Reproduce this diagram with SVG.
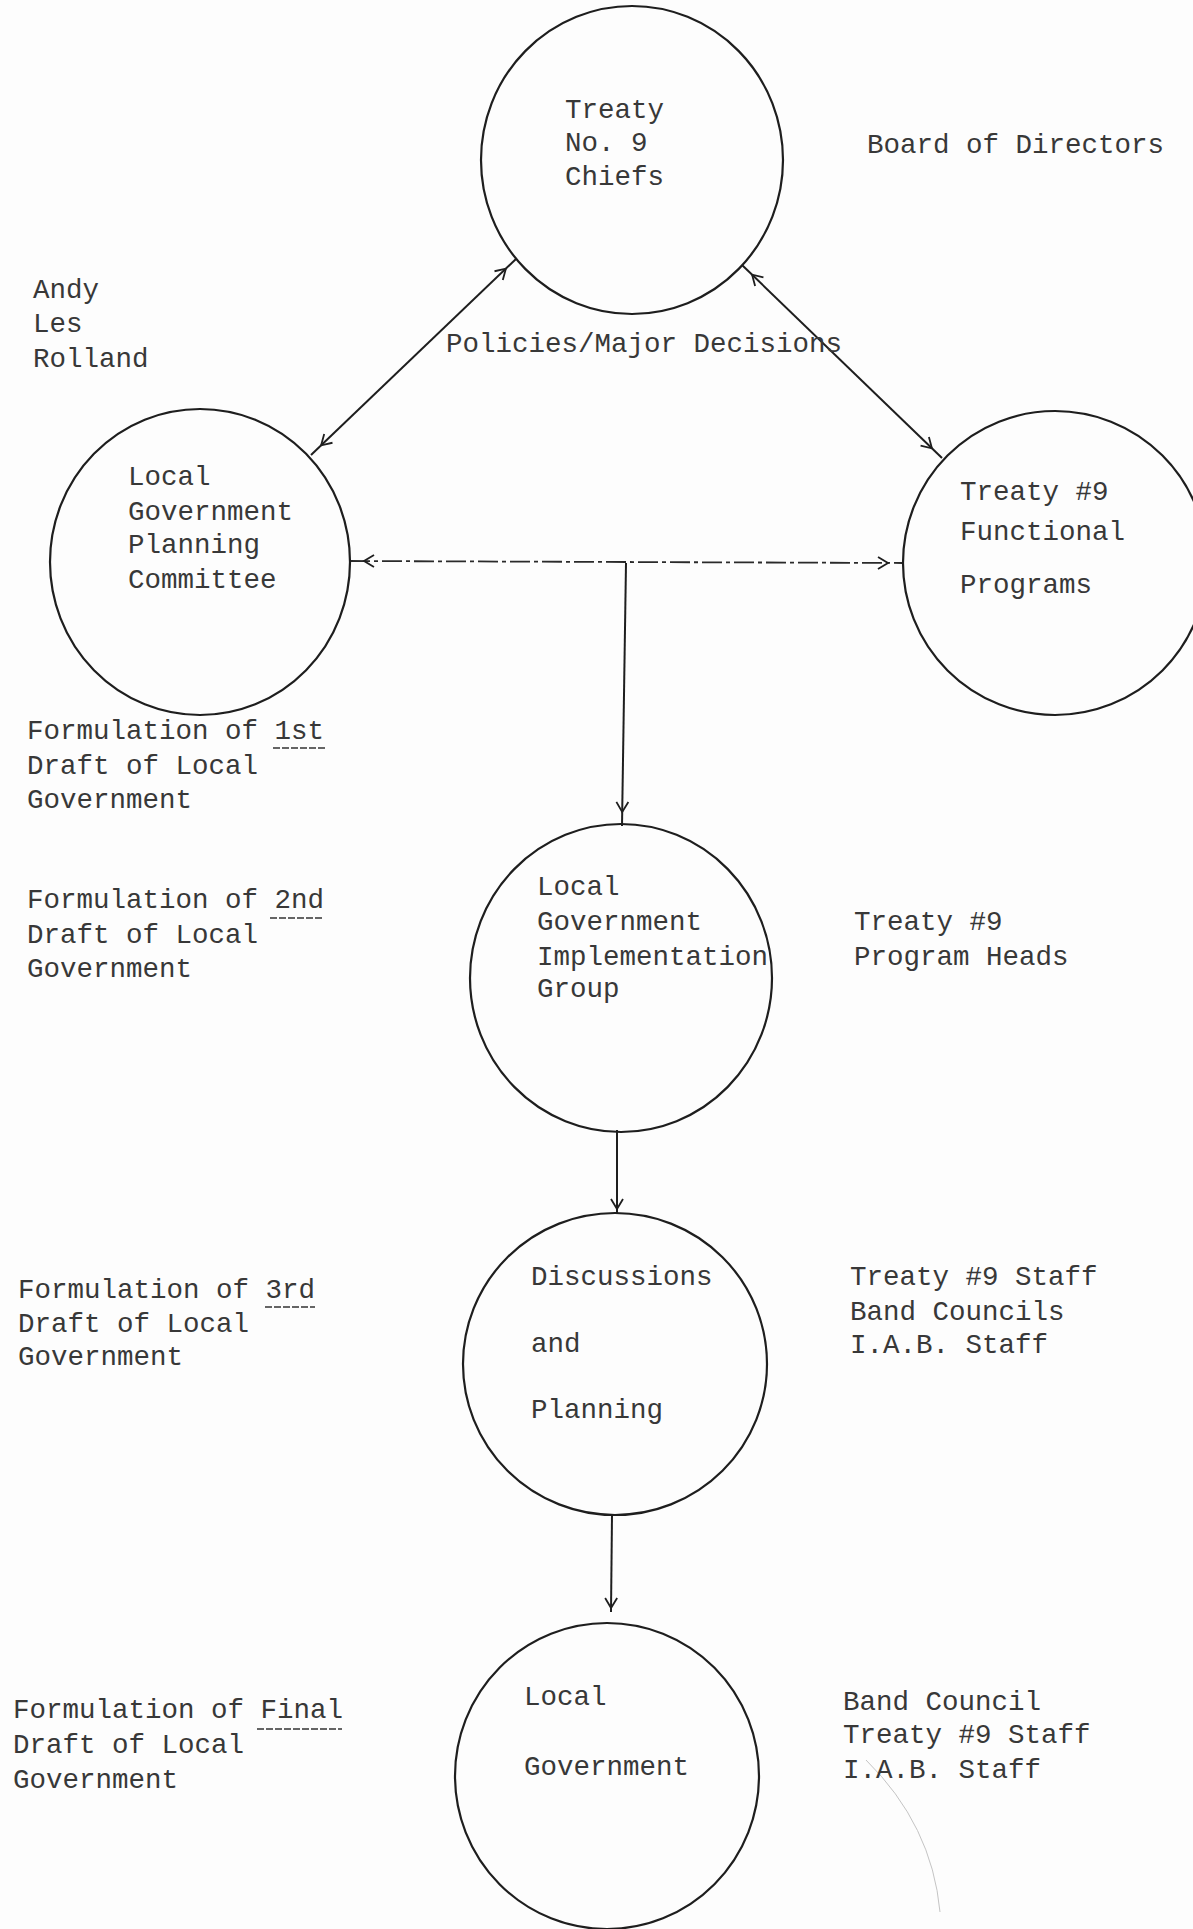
<svg xmlns="http://www.w3.org/2000/svg" width="1193" height="1929" viewBox="0 0 1193 1929">
  <style>
    .t { font-family: "Liberation Mono", "DejaVu Sans Mono", monospace; font-size: 27.5px; fill: #383838; }
    .node { fill: none; stroke: #1e1e1e; stroke-width: 2.2; }
    .conn { fill: none; stroke: #1e1e1e; stroke-width: 2; }
    .dash { fill: none; stroke: #2a2a2a; stroke-width: 1.8; stroke-dasharray: 20 4 4 4; }
    .ul { stroke: #333; stroke-width: 1.6; stroke-dasharray: 7 2; }
  </style>
  <defs>
    <marker id="arr" markerUnits="userSpaceOnUse" markerWidth="40" markerHeight="20" viewBox="0 0 40 20" refX="28" refY="10" orient="auto-start-reverse">
      <path d="M4,4 L14,10 L4,16" fill="none" stroke="#1e1e1e" stroke-width="1.8"/>
    </marker>
    <marker id="arrIn" markerUnits="userSpaceOnUse" markerWidth="40" markerHeight="20" viewBox="0 0 40 20" refX="18" refY="10" orient="auto">
      <path d="M4,4 L14,10 L4,16" fill="none" stroke="#1e1e1e" stroke-width="1.8"/>
    </marker>
  </defs>
  <rect width="1193" height="1929" fill="#fdfdfd"/>

  <g id="connectors">
    <line class="conn" x1="311" y1="455" x2="516" y2="259" marker-start="url(#arr)" marker-end="url(#arr)"/>
    <line class="conn" x1="742" y1="265" x2="942" y2="458" marker-start="url(#arr)" marker-end="url(#arr)"/>
    <line class="dash" x1="350" y1="561" x2="902" y2="563" marker-start="url(#arr)" marker-end="url(#arr)"/>
    <line class="conn" x1="626" y1="563" x2="622" y2="826" marker-end="url(#arr)"/>
    <line class="conn" x1="617" y1="1130" x2="617" y2="1213" marker-end="url(#arrIn)"/>
    <line class="conn" x1="612" y1="1515" x2="611" y2="1612" marker-end="url(#arrIn)"/>
    <path d="M866,1760 Q932,1825 940,1912" fill="none" stroke="#c4c4c4" stroke-width="1"/>
  </g>

  <g id="node-chiefs">
    <ellipse class="node" cx="632" cy="160" rx="151" ry="154"/>
    <text class="t" x="565" y="118">Treaty</text>
    <text class="t" x="565" y="151">No. 9</text>
    <text class="t" x="565" y="185">Chiefs</text>
  </g>

  <g id="node-planning-committee">
    <ellipse class="node" cx="200" cy="562" rx="150" ry="153"/>
    <text class="t" x="128" y="485">Local</text>
    <text class="t" x="128" y="520">Government</text>
    <text class="t" x="128" y="553">Planning</text>
    <text class="t" x="128" y="588">Committee</text>
  </g>

  <g id="node-functional-programs">
    <ellipse class="node" cx="1055" cy="563" rx="152" ry="152"/>
    <text class="t" x="960" y="500">Treaty #9</text>
    <text class="t" x="960" y="540">Functional</text>
    <text class="t" x="960" y="593">Programs</text>
  </g>

  <g id="node-implementation-group">
    <ellipse class="node" cx="621" cy="978" rx="151" ry="154"/>
    <text class="t" x="537" y="895">Local</text>
    <text class="t" x="537" y="930">Government</text>
    <text class="t" x="537" y="965">Implementation</text>
    <text class="t" x="537" y="997">Group</text>
  </g>

  <g id="node-discussions">
    <ellipse class="node" cx="615" cy="1364" rx="152" ry="151"/>
    <text class="t" x="531" y="1285">Discussions</text>
    <text class="t" x="531" y="1352">and</text>
    <text class="t" x="531" y="1418">Planning</text>
  </g>

  <g id="node-local-government">
    <ellipse class="node" cx="607" cy="1776" rx="152" ry="153"/>
    <text class="t" x="524" y="1705">Local</text>
    <text class="t" x="524" y="1775">Government</text>
  </g>

  <g id="labels">
    <text class="t" x="867" y="153">Board of Directors</text>
    <text class="t" x="446" y="352">Policies/Major Decisions</text>
    <text class="t" x="33" y="298">Andy</text>
    <text class="t" x="33" y="332">Les</text>
    <text class="t" x="33" y="367">Rolland</text>

    <text class="t" x="27" y="739">Formulation of 1st</text>
    <text class="t" x="27" y="774">Draft of Local</text>
    <text class="t" x="27" y="808">Government</text>
    <line class="ul" x1="273" y1="748" x2="325" y2="748"/>

    <text class="t" x="27" y="908">Formulation of 2nd</text>
    <text class="t" x="27" y="943">Draft of Local</text>
    <text class="t" x="27" y="977">Government</text>
    <line class="ul" x1="270" y1="918" x2="322" y2="918"/>

    <text class="t" x="18" y="1298">Formulation of 3rd</text>
    <text class="t" x="18" y="1332">Draft of Local</text>
    <text class="t" x="18" y="1365">Government</text>
    <line class="ul" x1="265" y1="1307" x2="315" y2="1307"/>

    <text class="t" x="13" y="1718">Formulation of Final</text>
    <text class="t" x="13" y="1753">Draft of Local</text>
    <text class="t" x="13" y="1788">Government</text>
    <line class="ul" x1="257" y1="1729" x2="342" y2="1729"/>

    <text class="t" x="854" y="930">Treaty #9</text>
    <text class="t" x="854" y="965">Program Heads</text>

    <text class="t" x="850" y="1285">Treaty #9 Staff</text>
    <text class="t" x="850" y="1320">Band Councils</text>
    <text class="t" x="850" y="1353">I.A.B. Staff</text>

    <text class="t" x="843" y="1710">Band Council</text>
    <text class="t" x="843" y="1743">Treaty #9 Staff</text>
    <text class="t" x="843" y="1778">I.A.B. Staff</text>
  </g>
</svg>
